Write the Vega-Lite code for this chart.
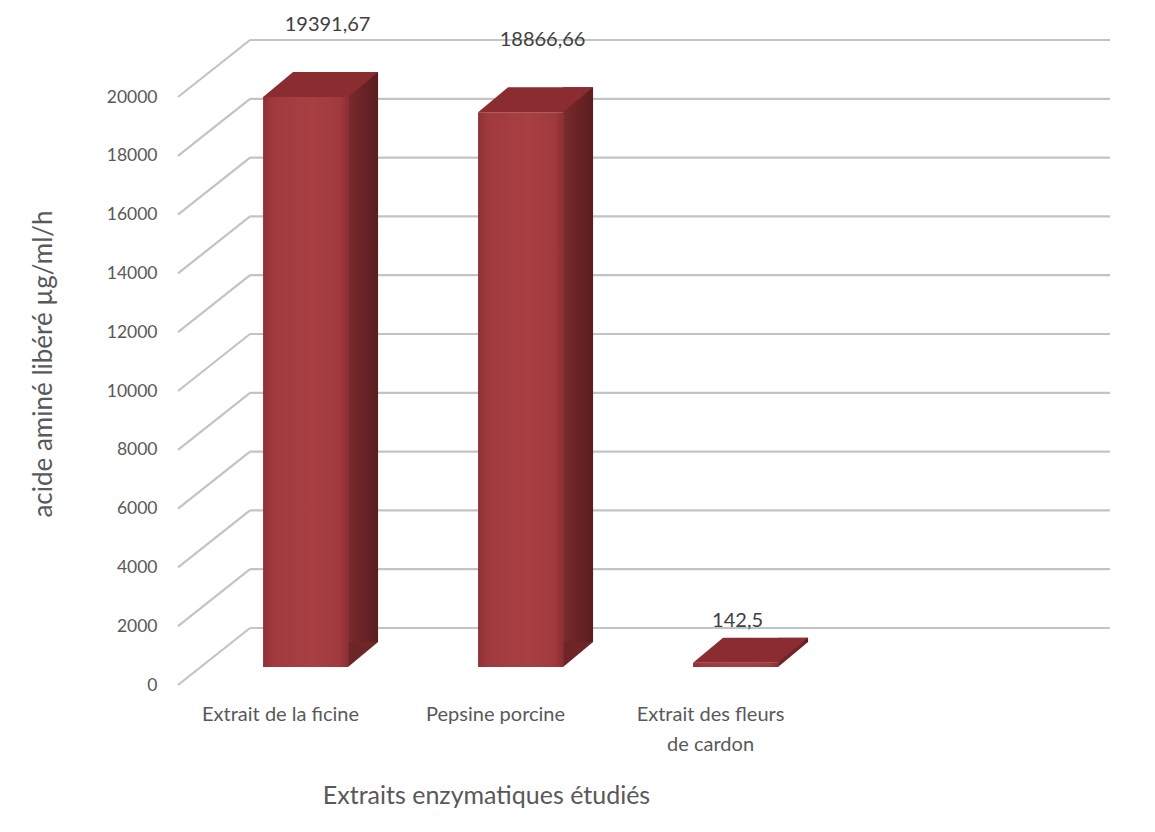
{
  "$schema": "https://vega.github.io/schema/vega-lite/v6.json",
  "width": 932,
  "height": 643,
  "autosize": {"type": "none"},
  "padding": {"left": 178, "top": 42, "right": 45, "bottom": 147},
  "background": "white",
  "config": {
    "view": {"stroke": null},
    "font": "Lato",
    "axisY": {
      "grid": false, "domain": false, "ticks": false,
      "labelPadding": 21, "labelFontSize": 17.5, "labelColor": "#595959", "labelFont": "Lato",
      "titleFontSize": 26, "titleFontWeight": "normal", "titleColor": "#595959", "titleFont": "Lato",
      "titlePadding": 50
    },
    "locale": {"number": {"decimal": ",", "thousands": "", "grouping": [3], "currency": ["", " €"]}}
  },
  "datasets": {
    "ticks": [
      {"t": 0}, {"t": 2000}, {"t": 4000}, {"t": 6000}, {"t": 8000}, {"t": 10000},
      {"t": 12000}, {"t": 14000}, {"t": 16000}, {"t": 18000}, {"t": 20000}
    ],
    "bars": [
      {"name": "Extrait de la ficine", "value": 19391.67},
      {"name": "Pepsine porcine", "value": 18866.66},
      {"name": "Extrait des fleurs de cardon", "value": 142.5}
    ]
  },
  "resolve": {"scale": {"x": "independent"}},
  "layer": [
    {
      "data": {"name": "ticks"},
      "encoding": {
        "y": {
          "field": "t", "type": "quantitative",
          "scale": {"domain": [0, 21871], "nice": false, "zero": false},
          "axis": {"values": [0, 2000, 4000, 6000, 8000, 10000, 12000, 14000, 16000, 18000, 20000], "title": "acide aminé libéré µg/ml/h"}
        }
      },
      "layer": [
        {
          "mark": {"type": "rule", "stroke": "#c3c3c3", "strokeWidth": 2.2, "x2Offset": 72, "y2Offset": -57},
          "encoding": {
            "x": {"datum": 0, "type": "quantitative", "scale": {"domain": [0, 1], "nice": false}, "axis": null},
            "x2": {"datum": 0},
            "y2": {"field": "t"}
          }
        },
        {
          "mark": {"type": "rule", "stroke": "#c3c3c3", "strokeWidth": 2.2, "xOffset": 72, "yOffset": -57, "y2Offset": -57},
          "encoding": {
            "x": {"datum": 0, "type": "quantitative", "scale": {"domain": [0, 1], "nice": false}, "axis": null},
            "x2": {"datum": 1},
            "y2": {"field": "t"}
          }
        }
      ]
    },
    {
      "data": {"name": "bars"},
      "encoding": {
        "x": {
          "field": "name", "type": "nominal", "sort": null,
          "scale": {"paddingInner": 0.6047, "paddingOuter": 0.9698, "align": 0.204},
          "axis": {
            "title": "Extraits enzymatiques étudiés",
            "domain": false, "ticks": false, "labelAngle": 0,
            "labelPadding": 19, "labelFontSize": 20, "labelColor": "#595959", "labelFont": "Lato",
            "labelOffset": -25, "labelLineHeight": 30, "labelBaseline": "top", "labelLimit": 300,
            "labelExpr": "datum.label == 'Extrait des fleurs de cardon' ? ['Extrait des fleurs', 'de cardon'] : datum.label",
            "titleFontSize": 25, "titleFontWeight": "normal", "titleColor": "#595959", "titleFont": "Lato",
            "titlePadding": 29, "titleX": 308
          }
        },
        "y": {
          "field": "value", "type": "quantitative",
          "scale": {"domain": [0, 21871], "nice": false, "zero": false},
          "axis": {"values": [0, 2000, 4000, 6000, 8000, 10000, 12000, 14000, 16000, 18000, 20000], "title": "acide aminé libéré µg/ml/h"}
        }
      },
      "layer": [
        {
          "mark": {
            "type": "bar", "yOffset": -18, "y2Offset": -18,
            "color": {"gradient": "linear", "x1": 0, "x2": 1, "y1": 0, "y2": 0,
              "stops": [
                {"offset": 0, "color": "#8e2f35"},
                {"offset": 0.12, "color": "#a03a3f"},
                {"offset": 0.6, "color": "#a83f42"},
                {"offset": 0.9, "color": "#a03a3e"},
                {"offset": 1, "color": "#8d2e33"}
              ]}
          },
          "encoding": {"y2": {"datum": 0}}
        },
        {
          "mark": {
            "type": "bar", "width": 30, "xOffset": 57.5, "yOffset": -43, "y2Offset": -43,
            "color": {"gradient": "linear", "x1": 0, "x2": 1, "y1": 0, "y2": 0,
              "stops": [
                {"offset": 0, "color": "#7a2a2c"},
                {"offset": 1, "color": "#5a1d1f"}
              ]}
          },
          "encoding": {"y2": {"datum": 0}}
        },
        {
          "mark": {"type": "point", "shape": "M0,0L30,-25L0,-25Z", "size": 4, "filled": true, "opacity": 1, "strokeWidth": 0, "color": "#6e2527", "yOffset": -18},
          "encoding": {
            "x": {"field": "name", "type": "nominal", "sort": null, "bandPosition": 1},
            "y": {
              "datum": 0, "type": "quantitative",
              "scale": {"domain": [0, 21871], "nice": false, "zero": false},
              "axis": {"values": [0, 2000, 4000, 6000, 8000, 10000, 12000, 14000, 16000, 18000, 20000], "title": "acide aminé libéré µg/ml/h"}
            }
          }
        },
        {
          "mark": {"type": "point", "shape": "M0,0L30,-25L115,-25L85,0Z", "size": 4, "filled": true, "opacity": 1, "strokeWidth": 0, "color": "#8b2c30", "yOffset": -18},
          "encoding": {
            "x": {"field": "name", "type": "nominal", "sort": null, "bandPosition": 0}
          }
        },
        {
          "mark": {
            "type": "text", "font": "Lato", "fontSize": 20, "color": "#404040",
            "yOffset": -18,
            "dx": {"expr": "datum.value > 1000 ? 22 : 2"},
            "dy": {"expr": "datum.value > 1000 ? -72 : -42"}
          },
          "encoding": {
            "text": {"field": "value", "type": "quantitative", "format": ".2~f"}
          }
        }
      ]
    }
  ]
}
